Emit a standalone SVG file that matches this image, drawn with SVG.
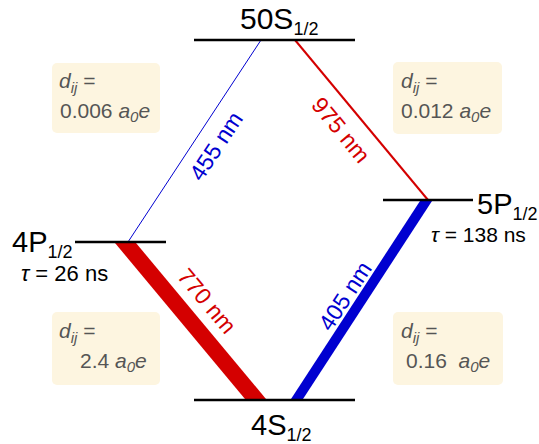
<svg xmlns="http://www.w3.org/2000/svg" width="539" height="444" viewBox="0 0 539 444">
<style>
.lvl{stroke:#000;stroke-width:2.6}
.lab{font-family:"Liberation Sans",Arial,sans-serif;fill:#000}
.box{fill:#fdf5e0}
.bt{font-family:"Liberation Sans",Arial,sans-serif;font-size:21px;fill:#555}
.it{font-style:italic}
.wl{font-family:"Liberation Sans",Arial,sans-serif;font-size:23px}
.red{fill:#d40000}
.blue{fill:#0000d0}
</style>
<rect width="539" height="444" fill="#fff"/>
<g id="connectors">
<line x1="261" y1="40" x2="128" y2="242" stroke="#0000d0" stroke-width="1"/>
<line x1="295" y1="40" x2="428" y2="200" stroke="#d40000" stroke-width="2"/>
<polygon points="115,243 136,243 266,399 245,399" fill="#d40000"/>
<polygon points="420,201 432,201 303,399 291,399" fill="#0000d0"/>
<text class="wl blue" transform="translate(216,146) rotate(-56.6)" text-anchor="middle" dy="8">455 nm</text>
<text class="wl red" transform="translate(341,130) rotate(50.3)" text-anchor="middle" dy="8">975 nm</text>
<text class="wl red" transform="translate(207,301) rotate(50.2)" text-anchor="middle" dy="8">770 nm</text>
<text class="wl blue" transform="translate(345,296) rotate(-57)" text-anchor="middle" dy="8">405 nm</text>
</g>
<g id="level-50S">
<line class="lvl" x1="194" y1="40" x2="355" y2="40"/>
<text class="lab" x="240" y="29" font-size="30">50S<tspan font-size="18" dy="6">1/2</tspan></text>
</g>
<g id="level-4P">
<line class="lvl" x1="75" y1="242" x2="166" y2="242"/>
<text class="lab" x="12" y="252" font-size="29">4P<tspan font-size="18" dy="6">1/2</tspan></text>
<text class="lab" x="21" y="281" font-size="22"><tspan class="it">τ</tspan> = 26 ns</text>
</g>
<g id="level-5P">
<line class="lvl" x1="383" y1="200" x2="473" y2="200"/>
<text class="lab" x="477" y="214" font-size="29">5P<tspan font-size="18" dy="6">1/2</tspan></text>
<text class="lab" x="431" y="242" font-size="21"><tspan class="it">τ</tspan> = 138 ns</text>
</g>
<g id="level-4S">
<line class="lvl" x1="194" y1="400" x2="355" y2="400"/>
<text class="lab" x="251" y="435" font-size="29">4S<tspan font-size="18" dy="6">1/2</tspan></text>
</g>
<g id="box-1">
<rect class="box" x="52" y="63" width="108" height="70" rx="5"/>
<text class="bt" x="59" y="88"><tspan class="it">d</tspan><tspan class="it" font-size="15" dy="5">ij</tspan><tspan dy="-5"> =</tspan></text>
<text class="bt" x="60" y="118">0.006 <tspan class="it">a</tspan><tspan class="it" font-size="15" dy="4">0</tspan><tspan class="it" dy="-4">e</tspan></text>
</g>
<g id="box-2">
<rect class="box" x="393" y="62" width="109" height="72" rx="5"/>
<text class="bt" x="401" y="88"><tspan class="it">d</tspan><tspan class="it" font-size="15" dy="5">ij</tspan><tspan dy="-5"> =</tspan></text>
<text class="bt" x="401" y="118">0.012 <tspan class="it">a</tspan><tspan class="it" font-size="15" dy="4">0</tspan><tspan class="it" dy="-4">e</tspan></text>
</g>
<g id="box-3">
<rect class="box" x="52" y="312" width="108" height="73" rx="5"/>
<text class="bt" x="59" y="338"><tspan class="it">d</tspan><tspan class="it" font-size="15" dy="5">ij</tspan><tspan dy="-5"> =</tspan></text>
<text class="bt" x="80" y="368">2.4 <tspan class="it">a</tspan><tspan class="it" font-size="15" dy="4">0</tspan><tspan class="it" dy="-4">e</tspan></text>
</g>
<g id="box-4">
<rect class="box" x="393" y="312" width="110" height="73" rx="5"/>
<text class="bt" x="401" y="338"><tspan class="it">d</tspan><tspan class="it" font-size="15" dy="5">ij</tspan><tspan dy="-5"> =</tspan></text>
<text class="bt" x="406" y="368" xml:space="preserve">0.16  <tspan class="it">a</tspan><tspan class="it" font-size="15" dy="4">0</tspan><tspan class="it" dy="-4">e</tspan></text>
</g>
</svg>
